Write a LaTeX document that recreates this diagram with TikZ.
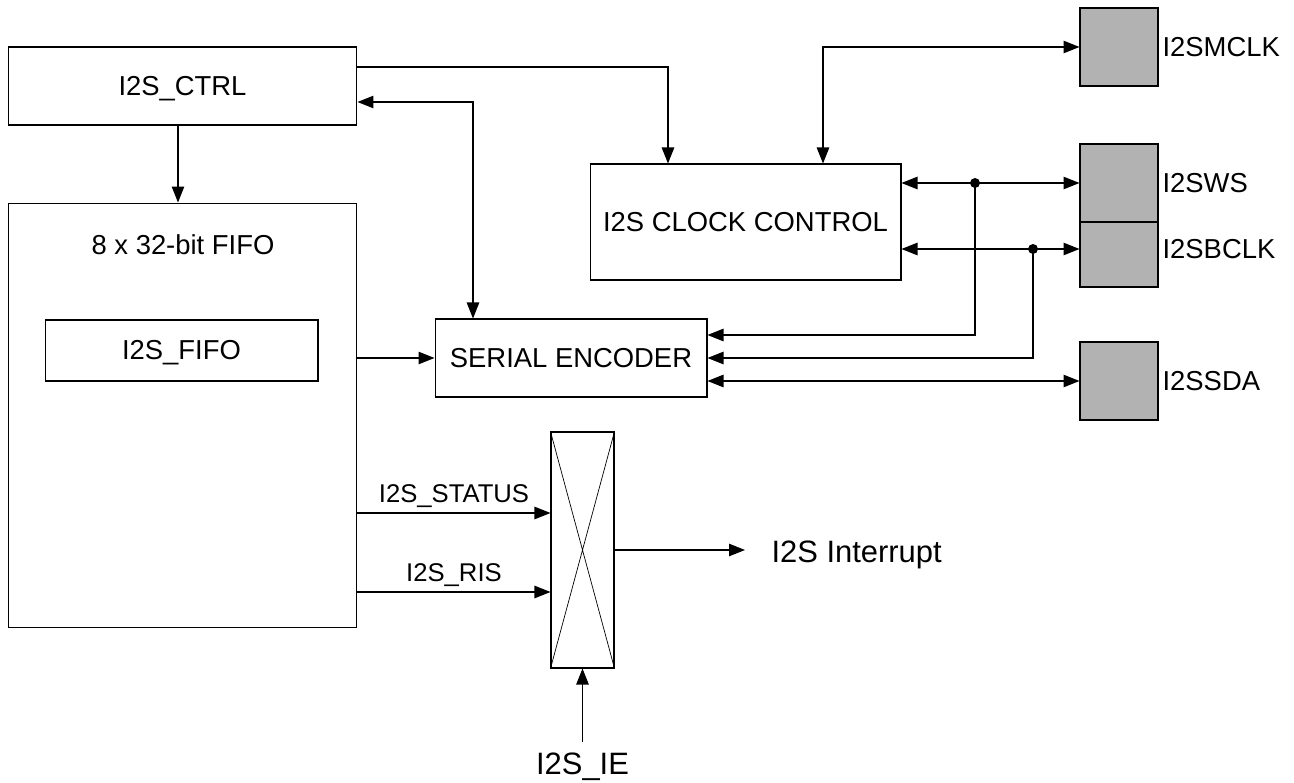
\documentclass[tikz,border=0pt]{standalone}
\usepackage{fontspec}
\setmainfont{Liberation Sans}
\usetikzlibrary{arrows.meta}

\begin{document}
\begin{tikzpicture}[x=0.02cm,y=-0.02cm,line width=.6pt,font=\fontsize{15.6}{18}\selectfont,box/.style={draw,inner sep=0pt,text height=1.05em,text depth=0pt},pin/.style={draw,fill=gray!60,minimum width=1.56cm,inner sep=0pt},pinlbl/.style={anchor=west,inner sep=2pt},sig/.style={font=\fontsize{14.6}{17}\selectfont,inner sep=3pt},big/.style={font=\fontsize{17.6}{20}\selectfont},arrow/.style={-{Triangle[length=3.2mm,width=2.5mm]}},biarrow/.style={{Triangle[length=3.2mm,width=2.5mm]}-{Triangle[length=3.2mm,width=2.5mm]}}]
\useasboundingbox (0,0) rectangle (1294,783);
\node[box,minimum width=6.98cm,minimum height=1.56cm] (ctrl) at (182.5,86) {I2S\_CTRL};
\node[box,minimum width=6.98cm,minimum height=8.5cm] (fifo) at (182.5,415.5) {};
\node (fifotitle) at (183,245) {8 x 32-bit FIFO};
\node[box,minimum width=5.46cm,minimum height=1.22cm] (fiforeg) at (181.5,350.5) {I2S\_FIFO};
\node[box,minimum width=6.22cm,minimum height=2.32cm] (clk) at (745.5,222) {I2S CLOCK CONTROL};
\node[box,minimum width=5.44cm,minimum height=1.56cm] (enc) at (571,358) {SERIAL ENCODER};
\node[box,minimum width=1.26cm,minimum height=4.72cm] (mux) at (582.5,550) {};
\draw[line width=.4pt] (mux.north west) -- (mux.south east) (mux.north east) -- (mux.south west);
% pins
\node[pin,minimum height=1.56cm] (mclk) at (1119,47) {};
\node[pin,minimum height=1.56cm] (ws) at (1119,183) {};
\node[pin,minimum height=1.3cm] (bclk) at (1119,254.5) {};
\node[pin,minimum height=1.56cm] (sda) at (1119,381) {};
\node[pinlbl] (mclklbl) at (mclk.east) {I2SMCLK};
\node[pinlbl] (wslbl) at (ws.east) {I2SWS};
\node[pinlbl] (bclklbl) at (bclk.east |- 0,249) {I2SBCLK};
\node[pinlbl] (sdalbl) at (sda.east) {I2SSDA};
\node[big,anchor=west,inner ysep=0pt,inner xsep=.52cm] (intr) at (745,555) {I2S Interrupt};
\node[big,anchor=north,inner sep=.2cm] (ie) at (582.5,742) {I2S\_IE};
% connectors
\draw[arrow] (ctrl.south -| 178,0) -- (fifo.north -| 178,0);
\draw[arrow] (ctrl.east |- 0,67) -| (clk.north -| 668,0);
\draw[biarrow] (ctrl.east |- 0,102) -| (enc.north -| 473,0);
\draw[biarrow] (clk.north -| 823,0) |- (mclk.west);
\draw[biarrow] (clk.east |- ws.west) -- (ws.west);
\draw[biarrow] (clk.east |- 0,249) -- (bclk.west |- 0,249);
\coordinate (wsdot) at (975,183);
\coordinate (bclkdot) at (1033,249);
\fill (wsdot) circle (0.1cm) (bclkdot) circle (0.1cm);
\draw[arrow] (wsdot) |- (enc.east |- 0,335);
\draw[arrow] (bclkdot) |- (enc.east |- 0,358);
\draw[biarrow] (enc.east |- sda.west) -- (sda.west);
\draw[arrow] (fifo.east |- enc.west) -- (enc.west);
\draw[arrow] (fifo.east |- 0,513) -- (mux.west |- 0,513) node[sig,midway,above] (status) {I2S\_STATUS};
\draw[arrow] (fifo.east |- 0,592) -- (mux.west |- 0,592) node[sig,midway,above] (ris) {I2S\_RIS};
\draw[arrow] (mux.east) -- (mux.east -| intr.west);
\draw[arrow] (ie.north) -- (mux.south);
\end{tikzpicture}
\end{document}
